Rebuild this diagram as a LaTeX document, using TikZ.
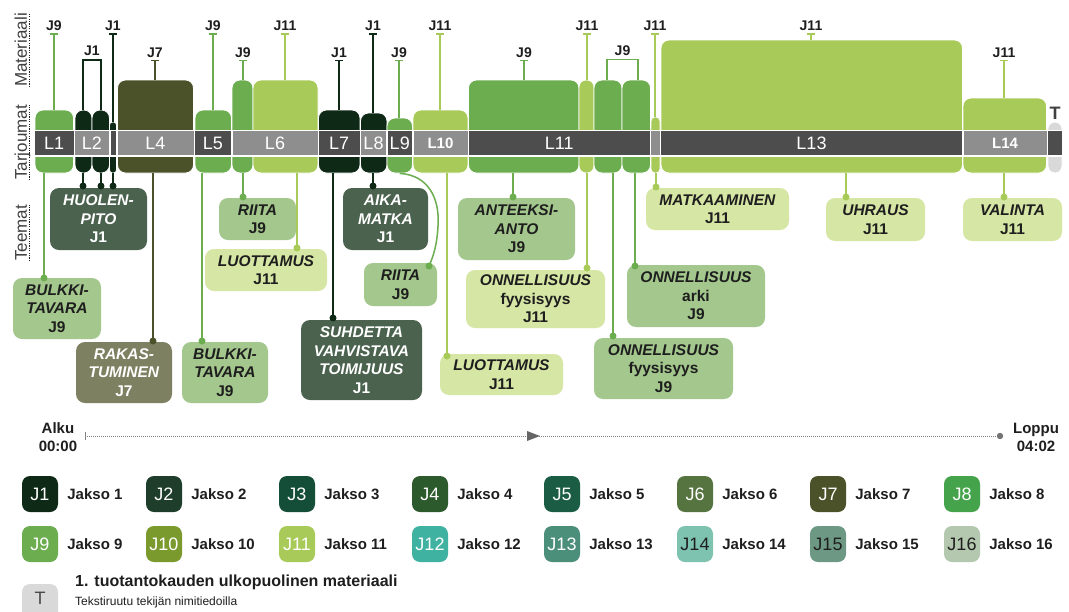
\documentclass[tikz,border=0pt]{standalone}
\usepackage{fontspec}
\setmainfont{Liberation Sans}
\usetikzlibrary{arrows.meta,fit}

% episode colours
\definecolor{jc1}{HTML}{0E2A17}
\definecolor{jc2}{HTML}{1E3D2B}
\definecolor{jc3}{HTML}{154E38}
\definecolor{jc4}{HTML}{2D5A2C}
\definecolor{jc5}{HTML}{1A5C44}
\definecolor{jc6}{HTML}{56743F}
\definecolor{jc7}{HTML}{4B5229}
\definecolor{jc8}{HTML}{45A44B}
\definecolor{jc9}{HTML}{6BAD4F}
\definecolor{jc10}{HTML}{7A9A2E}
\definecolor{jc11}{HTML}{A8CA58}
\definecolor{jc12}{HTML}{3FB2A2}
\definecolor{jc13}{HTML}{4B8E7A}
\definecolor{jc14}{HTML}{7DC3AF}
\definecolor{jc15}{HTML}{6D9884}
\definecolor{jc16}{HTML}{B4C7AF}
\definecolor{tgray}{HTML}{D9D9D9}
% strip and theme colours
\definecolor{sdark}{HTML}{4D4D4D}
\definecolor{slight}{HTML}{8E8E8E}
\definecolor{thdark}{HTML}{4A624E}
\definecolor{tholive}{HTML}{7D8061}
\definecolor{thgreen}{HTML}{A3C78C}
\definecolor{thpale}{HTML}{D6E6A4}
\definecolor{ink}{HTML}{1E1E1E}

\newcommand\ti[1]{\textit{#1}}
% material line: name, x, tick y, colour, blob, label
\newcommand\matline[6]{%
  \coordinate (k#1) at (#2,#3);
  \node[mlab] (ml#1) at (#2,#3-2.5) {#6};
  \draw[matln=#4] (k#1) -- (k#1 |- #5.north);}
% theme link: name, x, y, colour, blob
\newcommand\themelink[5]{%
  \node[dotn=#4] (d#1) at (#2,#3) {};
  \draw[conn=#4] (d#1.center) -- (d#1 |- #5.south);}

\begin{document}
\begin{tikzpicture}[x=1pt,y=-1pt,
  span/.style args={#1/#2/#3/#4}{minimum width={(#3-#1)*1pt}, minimum height={(#4-#2)*1pt},
    at={({(#1+#3)/2},{(#2+#4)/2})}},
  blob/.style={fill=#1, draw=white, line width=0.8pt, inner sep=0pt, rounded corners=8pt},
  cell/.style={fill=#1, inner sep=0pt, text=white, font=\fontsize{18}{18}\selectfont},
  theme/.style={fill=#1, inner sep=0pt, rounded corners=9pt, align=center, text=ink,
    font=\bfseries\fontsize{15.5}{18.5}\selectfont},
  dotn/.style={circle, fill=#1, inner sep=0pt, minimum size=7pt},
  conn/.style={draw=#1, line width=1.5pt},
  matln/.style={draw=#1, line width=1.5pt, arrows={Bar[width=8pt,line width=1.5pt]-}},
  mlab/.style={anchor=base, inner sep=0pt, text=ink, font=\bfseries\fontsize{14}{14}\selectfont},
  axlab/.style={rotate=90, anchor=base west, inner sep=0pt, text=ink!85, font=\fontsize{17}{17}\selectfont},
  axdot/.style={draw=ink, line width=1.3pt, dash pattern=on 1.2pt off 1.2pt},
  lgbox/.style={fill=#1, minimum size=36pt, inner sep=0pt, rounded corners=8pt,
    font=\fontsize{18}{18}\selectfont},
  lgtxt/.style={anchor=west, inner sep=0pt, text=ink, font=\bfseries\fontsize{15}{15}\selectfont},
  tltxt/.style={align=center, inner sep=0pt, text=ink, font=\bfseries\fontsize{15}{18}\selectfont}]

\useasboundingbox (0,0) rectangle (1069,611);
\fill[white] (0,0) rectangle (1069,611);

% row headings
\node[axlab] (ax1) at (27,87) {Materiaali};
\node[axlab] (ax2) at (27,180) {Tarjoumat};
\node[axlab] (ax3) at (27,261) {Teemat};
\foreach \a in {ax1,ax2,ax3}
  \draw[axdot] ([xshift=2.5pt]\a.base west) -- ([xshift=2.5pt]\a.base east);

% offers: coloured blocks behind the strip
\node[blob=jc9,  fit={(35,110)(73.5,173)}] (b1) {};
\node[blob=jc1,  fit={(75,110)(92,173)}] (b2a) {};
\node[blob=jc1,  fit={(92,110)(109.5,173)}] (b2b) {};
\node[blob=jc1,  rounded corners=3pt, fit={(109.5,122)(116.5,173)}] (b2c) {};
\node[blob=jc7,  fit={(117.5,80)(193.5,173)}] (b4) {};
\node[blob=jc9,  fit={(195,110)(231.5,173)}] (b5) {};
\node[blob=jc9,  fit={(232,80)(253,173)}] (b6a) {};
\node[blob=jc11, fit={(253,80)(318,173)}] (b6b) {};
\node[blob=jc1,  fit={(318.5,110)(360,173)}] (b7) {};
\node[blob=jc1,  fit={(360.5,113)(387,173)}] (b8) {};
\node[blob=jc9,  fit={(387,118)(412.5,173)}] (b9) {};
\node[blob=jc11, fit={(413,110)(468,173)}] (b10) {};
\node[blob=jc9,  fit={(468.5,80)(579,173)}] (b11a) {};
\node[blob=jc11, rounded corners=7pt, fit={(579,80)(594,173)}] (b11b) {};
\node[blob=jc9,  fit={(594,80)(622,173)}] (b11c) {};
\node[blob=jc9,  fit={(622,80)(650.5,173)}] (b11d) {};
\node[blob=jc11, rounded corners=4pt, fit={(651,117)(660,173)}] (b12) {};
\node[blob=jc11, fit={(661,40)(962.5,173)}] (b13) {};
\node[blob=jc11, fit={(963,98)(1046.5,173)}] (b14) {};
\node[blob=tgray, rounded corners=7pt, fit={(1048,122)(1062,173)}] (bT) {};
\node[anchor=base, inner sep=0pt, text=ink!85, font=\bfseries\fontsize{18}{18}\selectfont] (tT) at (1055,119) {T};

% the strip of numbered sections
\fill[white] (35,129.5) rectangle (1062,156.5);
\node[cell=sdark,  span={35/131/73.5/155}] (L1) {L1};
\node[cell=slight, span={75/131/109/155}] (L2) {L2};
\node[cell=sdark,  span={110.5/131/116/155}] (L3) {};
\node[cell=slight, span={117.5/131/193.5/155}] (L4) {L4};
\node[cell=sdark,  span={195/131/231/155}] (L5) {L5};
\node[cell=slight, span={232.5/131/317.5/155}] (L6) {L6};
\node[cell=sdark,  span={319/131/359.5/155}] (L7) {L7};
\node[cell=slight, span={361/131/386/155}] (L8) {L8};
\node[cell=sdark,  span={387.5/131/412/155}] (L9) {L9};
\node[cell=slight, font=\bfseries\fontsize{15}{15}\selectfont, span={413.5/131/467.5/155}] (L10) {L10};
\node[cell=sdark,  span={469/131/649.5/155}] (L11) {L11};
\node[cell=slight, span={651/131/659.5/155}] (L12) {};
\node[cell=sdark,  span={661/131/962/155}] (L13) {L13};
\node[cell=slight, font=\bfseries\fontsize{15}{15}\selectfont, span={963.5/131/1046.5/155}] (L14) {L14};
\node[cell=sdark,  span={1048/131/1062/155}] (LT) {};

% material above the strip
\matline{1}{54}{33}{jc9}{b1}{J9}
\coordinate (brA) at (83,60); \coordinate (brB) at (101,60);
\node[mlab] (mlbr1) at (92,55.5) {J1};
\draw[conn=jc1] (brA |- b2a.north) -- (brA) -- (brB) -- (brB |- b2b.north);
\matline{2}{113}{33}{jc1}{b2c}{J1}
\matline{3}{155}{59.5}{jc7}{b4}{J7}
\matline{4}{213}{33}{jc9}{b5}{J9}
\matline{5}{243}{59.5}{jc9}{b6a}{J9}
\matline{6}{285}{33}{jc11}{b6b}{J11}
\matline{7}{339}{59.5}{jc1}{b7}{J1}
\matline{8}{373}{33}{jc1}{b8}{J1}
\matline{9}{399}{59.5}{jc9}{b9}{J9}
\matline{10}{440}{33}{jc11}{b10}{J11}
\matline{11}{524}{59.5}{jc9}{b11a}{J9}
\matline{12}{587}{33}{jc11}{b11b}{J11}
\coordinate (brC) at (607,59.5); \coordinate (brD) at (638,59.5);
\node[mlab] (mlbr2) at (622.5,55) {J9};
\draw[conn=jc9] (brC |- b11c.north) -- (brC) -- (brD) -- (brD |- b11d.north);
\matline{13}{655}{33}{jc11}{b12}{J11}
\matline{14}{811}{33}{jc11}{b13}{J11}
\matline{15}{1004}{59.5}{jc11}{b14}{J11}

% themes below the strip
\node[theme=thdark, text=white, span={50/188/147/250}] (th1) {\ti{HUOLEN-}\\\ti{PITO}\\J1};
\node[theme=thgreen, span={219/198/296/240}] (th2) {\ti{RIITA}\\J9};
\node[theme=thpale, span={205/249/327/291}] (th3) {\ti{LUOTTAMUS}\\J11};
\node[theme=thgreen, span={13/278/101/339}] (th4) {\ti{BULKKI-}\\\ti{TAVARA}\\J9};
\node[theme=tholive, text=white, span={76/342/172/403}] (th5) {\ti{RAKAS-}\\\ti{TUMINEN}\\J7};
\node[theme=thgreen, span={182/342/268/403}] (th6) {\ti{BULKKI-}\\\ti{TAVARA}\\J9};
\node[theme=thdark, text=white, span={301/320/422/400}] (th7) {\ti{SUHDETTA}\\\ti{VAHVISTAVA}\\\ti{TOIMIJUUS}\\J1};
\node[theme=thdark, text=white, span={343/188/428/250}] (th8) {\ti{AIKA-}\\\ti{MATKA}\\J1};
\node[theme=thgreen, span={364/263/437/306}] (th9) {\ti{RIITA}\\J9};
\node[theme=thgreen, span={458/198/575/260}] (th10) {\ti{ANTEEKSI-}\\\ti{ANTO}\\J9};
\node[theme=thpale, span={466/270/605/328}] (th11) {\ti{ONNELLISUUS}\\fyysisyys\\J11};
\node[theme=thpale, span={440/354/563/395}] (th12) {\ti{LUOTTAMUS}\\J11};
\node[theme=thgreen, span={594/338/733/399}] (th13) {\ti{ONNELLISUUS}\\fyysisyys\\J9};
\node[theme=thgreen, span={627/265/765/327}] (th14) {\ti{ONNELLISUUS}\\arki\\J9};
\node[theme=thpale, span={646/188/789/230}] (th15) {\ti{MATKAAMINEN}\\J11};
\node[theme=thpale, span={826/198/925/241}] (th16) {\ti{UHRAUS}\\J11};
\node[theme=thpale, span={963/198/1062/241}] (th17) {\ti{VALINTA}\\J11};

% links from offers to themes
\themelink{1}{44}{278}{jc9}{b1}
\themelink{2}{83}{186}{jc1}{b2a}
\themelink{3}{101}{186}{jc1}{b2b}
\themelink{4}{113}{186}{jc1}{b2c}
\themelink{5}{153}{341}{jc7}{b4}
\themelink{6}{202}{341}{jc9}{b5}
\themelink{7}{243}{197}{jc9}{b6a}
\themelink{8}{297}{248}{jc11}{b6b}
\themelink{9}{333}{318}{jc1}{b7}
\themelink{10}{373}{186}{jc1}{b8}
\node[dotn=jc9] (d11) at (429,266) {};
\draw[conn=jc9] (b9.south) .. controls (428,175) and (440,198) .. (438,226)
  .. controls (437,246) and (433,257) .. (d11.center);
\themelink{12}{447}{356}{jc11}{b10}
\themelink{13}{513}{197}{jc9}{b11a}
\themelink{14}{587}{268}{jc11}{b11b}
\themelink{15}{613}{336}{jc9}{b11c}
\themelink{16}{635}{266}{jc9}{b11d}
\themelink{17}{656}{187}{jc11}{b12}
\themelink{18}{846}{197}{jc11}{b13}
\themelink{19}{1004}{197}{jc11}{b14}

% time line
\node[tltxt] (alku) at (58,437) {Alku\\00:00};
\node[tltxt] (loppu) at (1036,437) {Loppu\\04:02};
\coordinate (ts) at (85,436);
\coordinate (tm) at (540,436);
\coordinate (te) at (1000,436);
\draw[gray, line width=0.8pt, dash pattern=on 1pt off 1pt] (ts) -- (te);
\draw[gray, line width=0.8pt] (ts) ++(0,-4) -- ++(0,8);
\fill[black!60] (tm) -- ++(-13,-5) -- ++(0,10) -- cycle;
\fill[black!55] (te) circle (3.2pt);

% legend of episodes
\foreach \n/\xx/\yy/\tc in {1/22/494/white, 2/146/494/white, 3/279/494/white, 4/412/494/white,
    5/544/494/white, 6/677/494/white, 7/810/494/white, 8/944/494/white,
    9/22/544/white, 10/146/544/white, 11/279/544/white, 12/412/544/white,
    13/544/544/white, 14/677/544/ink, 15/810/544/ink, 16/944/544/ink} {
  \node[lgbox=jc\n, text=\tc] (lg\n) at (\xx+18,\yy) {J\n};
  \node[lgtxt] (lt\n) at ([xshift=9pt]lg\n.east) {Jakso \n};
}
\node[lgbox=tgray] (lgT) at (40,602) {};
\node[inner sep=0pt, text=ink!80, font=\fontsize{18}{18}\selectfont] (lgTt) at (40,598) {T};
\node[lgtxt, font=\bfseries\fontsize{16}{16}\selectfont] (ltT1) at (75,582) {1. tuotantokauden ulkopuolinen materiaali};
\node[lgtxt, font=\fontsize{12}{12}\selectfont] (ltT2) at (75,602) {Tekstiruutu tekijän nimitiedoilla};
\end{tikzpicture}
\end{document}
